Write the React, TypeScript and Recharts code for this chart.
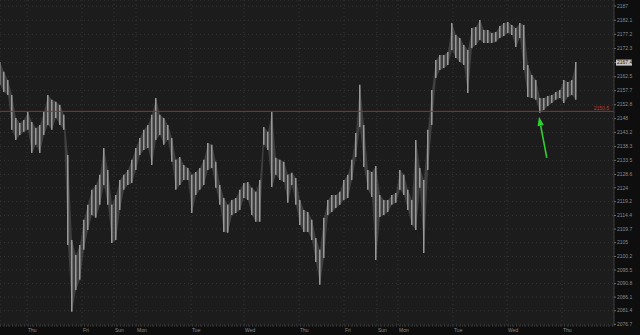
import { ComposedChart, Bar, Area, XAxis, YAxis, CartesianGrid, ReferenceLine } from 'recharts';

// bar highs / lows, one bar every step on the time axis
const highs = [
  2167.6, 2164.2, 2161.4, 2156.2, 2148.2, 2146.5, 2147.5, 2150.3, 2146.8, 2144.7,
  2145.8, 2150.3, 2156.2, 2154.5, 2153.8, 2152.7, 2149.3, 2135.4, 2105.9, 2100.7,
  2104.2, 2112.9, 2118.1, 2123.3, 2125.0, 2128.5, 2137.8, 2130.2, 2118.1, 2121.5,
  2126.7, 2128.5, 2130.2, 2133.7, 2137.8, 2141.3, 2144.1, 2145.8, 2149.3, 2155.1,
  2149.3, 2148.2, 2145.8, 2141.3, 2133.7, 2134.7, 2131.9, 2130.9, 2128.5, 2129.5,
  2130.9, 2133.7, 2139.5, 2138.9, 2133.0, 2125.0, 2120.5, 2118.1, 2119.8, 2120.5,
  2123.3, 2125.7, 2126.0, 2124.0, 2122.6, 2126.7, 2145.1, 2143.4, 2150.3, 2134.4,
  2133.7, 2133.0, 2128.5, 2129.2, 2127.4, 2119.8, 2116.3, 2115.6, 2112.9, 2106.6,
  2102.5, 2113.6, 2119.8, 2121.5, 2121.5, 2122.6, 2126.7, 2128.5, 2133.7, 2143.0,
  2159.7, 2145.8, 2130.2, 2129.5, 2131.6, 2121.5, 2119.8, 2119.8, 2121.5, 2122.2,
  2130.2, 2128.5, 2123.3, 2119.8, 2140.6, 2130.9, 2126.7, 2144.1, 2157.9, 2168.3,
  2170.0, 2170.0, 2171.1, 2181.1, 2177.0, 2175.9, 2173.5, 2171.8, 2179.4, 2179.7,
  2182.2, 2178.7, 2178.7, 2177.7, 2178.0, 2180.1, 2181.1, 2181.5, 2180.4, 2179.4,
  2181.1, 2180.4, 2166.6, 2163.1, 2161.4, 2155.1, 2155.1, 2155.8, 2156.2, 2157.2,
  2157.9, 2161.4, 2160.7, 2161.4, 2167.6,
];
const lows = [
  2159.7, 2157.2, 2156.2, 2144.1, 2140.6, 2142.3, 2143.4, 2144.1, 2136.1, 2138.9,
  2136.1, 2142.3, 2145.8, 2144.1, 2148.2, 2145.8, 2144.1, 2104.2, 2081.0, 2088.6,
  2092.1, 2102.5, 2109.4, 2114.6, 2113.6, 2118.1, 2125.0, 2118.1, 2104.9, 2105.9,
  2116.3, 2123.3, 2125.0, 2125.7, 2130.2, 2135.4, 2137.1, 2137.8, 2131.9, 2140.6,
  2142.3, 2138.9, 2140.6, 2133.0, 2123.3, 2125.0, 2126.7, 2126.7, 2115.3, 2121.5,
  2123.3, 2125.0, 2130.2, 2130.9, 2124.0, 2118.1, 2108.7, 2108.4, 2114.6, 2115.3,
  2116.3, 2120.5, 2119.8, 2114.6, 2112.2, 2112.2, 2138.9, 2137.1, 2124.3, 2128.5,
  2126.7, 2126.0, 2118.8, 2125.0, 2118.1, 2111.1, 2108.7, 2108.7, 2105.9, 2098.3,
  2090.4, 2099.7, 2114.6, 2115.6, 2117.0, 2118.1, 2119.8, 2120.5, 2126.7, 2134.7,
  2145.1, 2131.2, 2123.3, 2120.8, 2099.0, 2113.9, 2114.6, 2115.6, 2118.1, 2118.8,
  2123.3, 2121.5, 2116.3, 2111.1, 2109.4, 2124.0, 2101.4, 2130.2, 2145.8, 2162.1,
  2164.8, 2165.5, 2166.6, 2171.8, 2169.0, 2167.6, 2166.6, 2156.9, 2172.5, 2173.5,
  2175.2, 2174.2, 2174.2, 2174.2, 2174.6, 2175.9, 2176.6, 2177.7, 2177.0, 2172.8,
  2175.9, 2164.8, 2155.5, 2155.1, 2154.5, 2150.0, 2151.0, 2152.4, 2153.4, 2154.5,
  2155.1, 2153.4, 2155.5, 2156.2, 2154.5,
];

// day separators (in bar steps) and their labels
const dayTicks = [6.75, 20.5, 28.5, 34, 47.75, 61, 74.75, 86, 94.25, 99.5, 113.25, 126.75, 140.5];
const dayLabels = ['Thu', 'Fri', 'Sun', 'Mon', 'Tue', 'Wed', 'Thu', 'Fri', 'Sun', 'Mon', 'Tue', 'Wed', 'Thu'];

const priceTicks = [
  2187, 2182.1, 2177.2, 2172.3, 2167.4, 2162.5, 2157.7, 2152.8, 2148, 2143.2, 2138.3, 2133.5,
  2128.6, 2124, 2119.2, 2114.4, 2109.7, 2105, 2100.2, 2095.5, 2090.8, 2086.1, 2081.4, 2076.7,
];
const lastPrice = 2167.4;
const linePrice = 2150.5;
// annotation arrow: tail -> tip
const arrow = [
  { x: 136.7, y: 2134.4 },
  { x: 134.75, y: 2148.6 },
];

const data = highs.map((h, i) => ({ i, range: [lows[i], h] }));

const FONT = '"Liberation Sans", Arial, sans-serif';

function PriceTick(props: any) {
  const { x, y, payload } = props;
  const isLast = payload.value === lastPrice;
  return (
    <g>
      {isLast && <rect x={x - 1} y={y - 3} width={16} height={6} fill="#c9c9c9" />}
      <text
        x={x}
        y={y}
        dy={1.7}
        fontSize={5}
        fontFamily={FONT}
        fill={isLast ? '#151515' : '#8a8a8a'}
        textAnchor="start"
      >
        {payload.value}
      </text>
    </g>
  );
}

function DayTick(props: any) {
  const { x, y, index } = props;
  return (
    <text x={x + 1} y={y + 6} fontSize={5} fontFamily={FONT} fill="#8a8a8a" textAnchor="start">
      {dayLabels[index]}
    </text>
  );
}

function LineTag(props: any) {
  const { viewBox } = props;
  return (
    <text
      x={viewBox.x + viewBox.width - 5}
      y={viewBox.y - 1.5}
      fontSize={5}
      fontFamily={FONT}
      fill="#c0392b"
      textAnchor="end"
    >
      {linePrice}
    </text>
  );
}

function Arrow(props: any) {
  const { x1, y1, x2, y2 } = props;
  const dx = x2 - x1;
  const dy = y2 - y1;
  const len = Math.sqrt(dx * dx + dy * dy) || 1;
  const ux = dx / len;
  const uy = dy / len;
  const head = 9;
  const half = 3.2;
  const bx = x2 - ux * head;
  const by = y2 - uy * head;
  return (
    <g>
      <line x1={x1} y1={y1} x2={bx} y2={by} stroke="#2fd12f" strokeWidth={1.6} />
      <polygon
        points={`${x2},${y2} ${bx - uy * half},${by + ux * half} ${bx + uy * half},${by - ux * half}`}
        fill="#2fd12f"
      />
    </g>
  );
}

export default function App() {
  return (
    <div style={{ position: 'fixed', left: 0, top: 0, width: 640, height: 335, background: '#0e0e0e' }}>
      <ComposedChart width={640} height={335} data={data} margin={{ top: 0, right: 0, bottom: 0, left: 0 }}>
        <CartesianGrid fill="#1c1c1c" stroke="#363636" strokeDasharray="1 3" />
        <XAxis
          dataKey="i"
          type="number"
          domain={[0, 153.5]}
          allowDataOverflow
          ticks={dayTicks}
          interval={0}
          height={9}
          tickSize={0}
          tickMargin={0}
          tickLine={false}
          axisLine={{ stroke: '#3a3a3a', strokeDasharray: '1 2' }}
          tick={<DayTick />}
        />
        <YAxis
          orientation="right"
          type="number"
          domain={[2076.1, 2189.1]}
          allowDataOverflow
          ticks={priceTicks}
          interval={0}
          width={26}
          tickSize={2}
          tickMargin={1}
          tickLine={{ stroke: '#6a6a6a' }}
          axisLine={{ stroke: '#3a3a3a' }}
          tick={<PriceTick />}
        />
        <ReferenceLine y={linePrice} stroke="#8e3535" strokeWidth={1} label={<LineTag />} />
        <Area
          dataKey="range"
          type="linear"
          stroke="none"
          fill="#6a6a6a"
          fillOpacity={0.45}
          dot={false}
          activeDot={false}
          isAnimationActive={false}
        />
        <Bar dataKey="range" fill="#999999" barSize={1.5} isAnimationActive={false} />
        <ReferenceLine segment={arrow} shape={<Arrow />} />
      </ComposedChart>
    </div>
  );
}
